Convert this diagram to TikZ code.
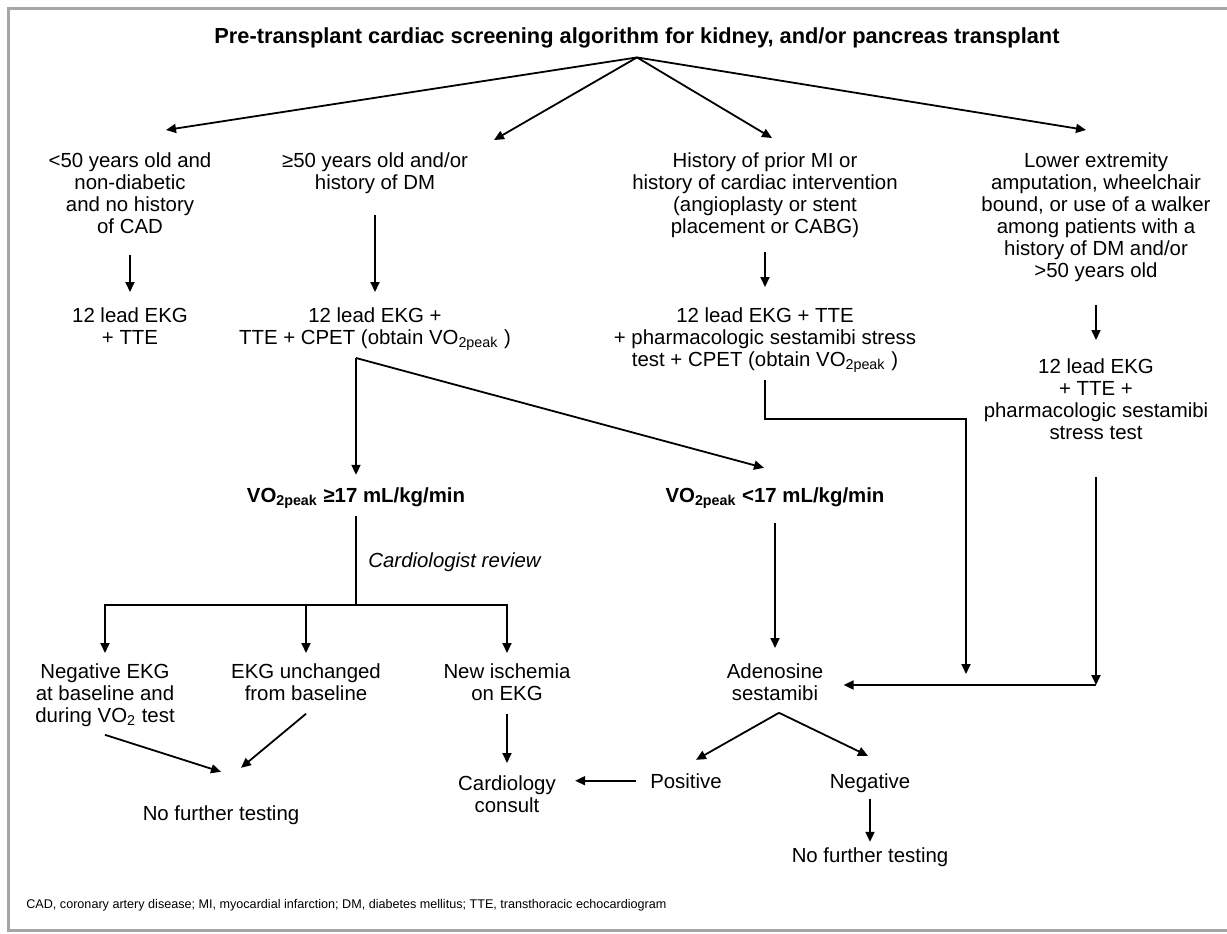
\documentclass[tikz,border=0pt]{standalone}
\usepackage{fontspec}
\setmainfont{Liberation Sans}
\usetikzlibrary{arrows.meta}

\begin{document}
\begin{tikzpicture}[
    x=0.5pt, y=-0.5pt,
    flow/.style={-{Triangle[length=5pt,width=4.5pt]}, line width=0.9pt},
    link/.style={line width=0.9pt},
    info/.style={
        inner sep=0pt,
        align=center,
        font=\fontsize{10.2}{11}\selectfont
    },
    head/.style={inner xsep=0pt, inner ysep=4.7pt, font=\fontsize{10.9}{13}\selectfont\bfseries},
    cutoff/.style={inner sep=0pt, font=\fontsize{10.2}{11}\selectfont\bfseries},
    remark/.style={inner sep=0pt, font=\fontsize{10.2}{11}\selectfont\itshape}
]
\useasboundingbox (0,0) rectangle (1227,933);

% Frame
\draw[gray!70, line width=1.5pt] (1227,8) -- (8,8) -- (8,930) -- (1227,930);

% Nodes
\node[head, anchor=base] (title) at (637,43) {Pre-transplant cardiac screening algorithm for kidney, and/or pancreas transplant};

\node[info, anchor=north] (young) at (130,152) {<50 years old and\\non-diabetic\\and no history\\of CAD};
\node[info, anchor=north] (older) at (375,152) {≥50 years old and/or\\history of DM};
\node[info, anchor=north] (prior) at (765,152) {History of prior MI or\\history of cardiac intervention\\(angioplasty or stent\\placement or CABG)};
\node[info, anchor=north] (mobility) at (1096,152) {Lower extremity\\amputation, wheelchair\\bound, or use of a walker\\among patients with a\\history of DM and/or\\>50 years old};

\node[info, anchor=north] (ekgA) at (130,307) {12 lead EKG\\+ TTE};
\node[info, anchor=north] (ekgB) at (375,307) {12 lead EKG +\\TTE + CPET (obtain VO\textsubscript{2peak} )};
\node[info, anchor=north] (ekgC) at (765,307) {12 lead EKG + TTE\\+ pharmacologic sestamibi stress\\test + CPET (obtain VO\textsubscript{2peak} )};
\node[info, anchor=north] (ekgD) at (1096,358) {12 lead EKG\\+ TTE +\\pharmacologic sestamibi\\stress test};

\node[cutoff, anchor=base] (high) at (356,502) {VO\textsubscript{2peak} ≥17 mL/kg/min};
\node[cutoff, anchor=base] (low) at (775,502) {VO\textsubscript{2peak} <17 mL/kg/min};
\node[remark, anchor=base west] (review) at (368,567) {Cardiologist review};

\node[info, anchor=north] (negekg) at (105,663) {Negative EKG\\at baseline and\\during VO\textsubscript{2} test};
\node[info, anchor=north] (unchanged) at (306,663) {EKG unchanged\\from baseline};
\node[info, anchor=north] (ischemia) at (507,663) {New ischemia\\on EKG};
\node[info, anchor=north] (adeno) at (775,663) {Adenosine\\sestamibi};

\node[info, anchor=base] (stopA) at (221,820) {No further testing};
\node[info, anchor=north] (consult) at (507,775) {Cardiology\\consult};
\node[info, anchor=base] (positive) at (686,788) {Positive};
\node[info, anchor=base] (negative) at (870,788) {Negative};
\node[info, anchor=base] (stopB) at (870,862) {No further testing};

\node[inner sep=0pt, anchor=base west, font=\fontsize{6.3}{8}\selectfont] (abbrev) at (26,908) {CAD, coronary artery disease; MI, myocardial infarction; DM, diabetes mellitus; TTE, transthoracic echocardiogram};

% Junctions
\coordinate (toYoung) at (166,130);
\coordinate (toOlder) at (494,140);
\coordinate (toPrior) at (772,138);
\coordinate (toMobility) at (1086,130);
\coordinate (split) at (356,358);
\coordinate (bar) at (356,605);
\coordinate (join) at (1096,685);

% Edges
\draw[flow] (title.south) -- (toYoung);
\draw[flow] (title.south) -- (toOlder);
\draw[flow] (title.south) -- (toPrior);
\draw[flow] (title.south) -- (toMobility);

\draw[flow] ([yshift=-10.5pt]young.south) -- ([yshift=7.5pt]ekgA.north);
\draw[flow] ([yshift=-10.5pt]older.south) -- ([yshift=7.5pt]ekgB.north);
\draw[flow] ([yshift=-7pt]prior.south) -- ([yshift=10pt]ekgC.north);
\draw[flow] ([yshift=-11.5pt]mobility.south) -- ([yshift=9pt]ekgD.north);

\draw[flow] (split) -- ([yshift=6pt]high.north);
\draw[flow] (split) -- ([xshift=-5.5pt,yshift=9.5pt]low.north);

\draw[link] ([yshift=-3.5pt]high.south) -- (bar);
\draw[flow] (bar) -| ([yshift=5pt]negekg.north);
\draw[flow] (bar) -| ([yshift=5pt]unchanged.north);
\draw[flow] (bar) -| ([yshift=5pt]ischemia.north);

\draw[flow] ([yshift=-7pt]low.south) -- ([yshift=7.5pt]adeno.north);
\draw[flow] ([yshift=-3.5pt]ekgC.south) -- ++(0,39) -- ++(201,0) -- ++(0,255);
\draw[flow] ([yshift=-18.5pt]ekgD.south) -- (join);
\draw[flow, shorten >=10pt] (join) -- (join -| adeno.east);

\draw[flow] ([yshift=-4pt]negekg.south) -- ([yshift=16.5pt]stopA.north);
\draw[flow] ([yshift=-6.5pt]unchanged.south) -- ([xshift=10pt,yshift=18.5pt]stopA.north);
\draw[flow] ([yshift=-6.5pt]ischemia.south) -- ([yshift=6pt]consult.north);

\draw[flow] ([xshift=2pt,yshift=-6pt]adeno.south) -- ([xshift=5pt,yshift=6.5pt]positive.north);
\draw[flow] ([xshift=2pt,yshift=-6pt]adeno.south) -- ([xshift=-1pt,yshift=8.5pt]negative.north);
\draw[flow, shorten <=7pt, shorten >=9.5pt] (positive.west) -- (positive.west -| consult.east);
\draw[flow] ([yshift=-3pt]negative.south) -- ([yshift=2.5pt]stopB.north);

\end{tikzpicture}
\end{document}
